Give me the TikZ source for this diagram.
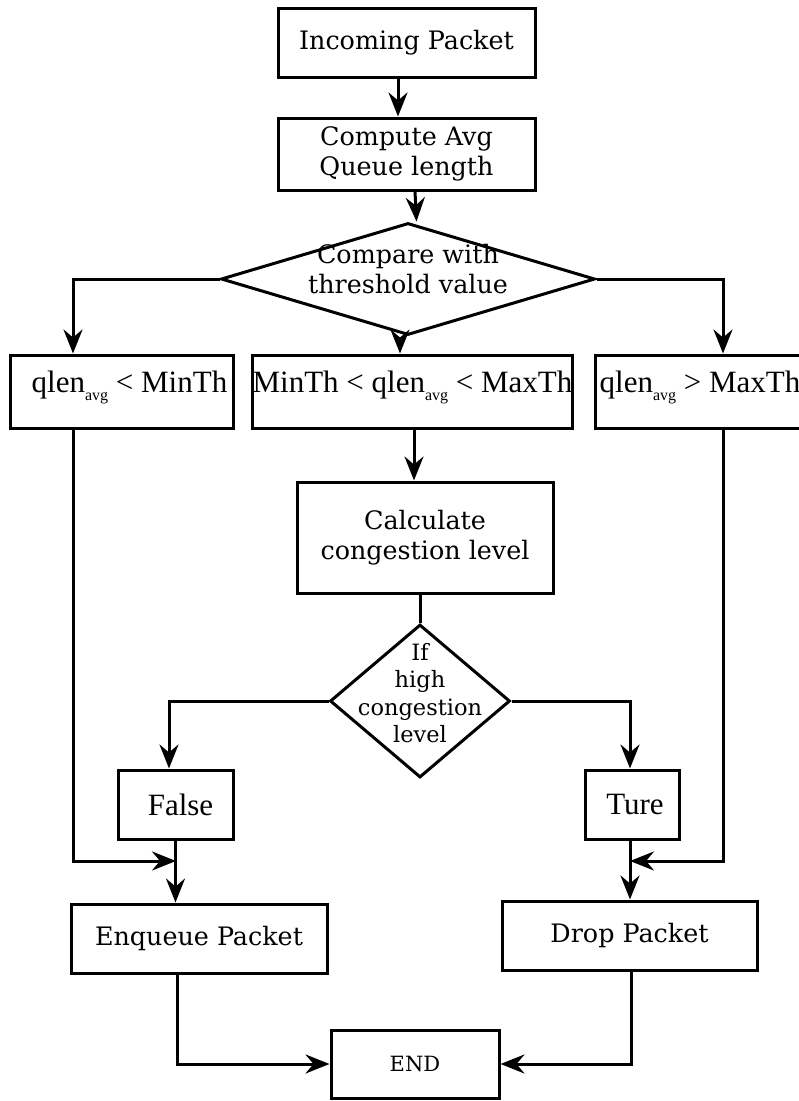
\documentclass[tikz,border=0pt]{standalone}
\usepackage{fontspec}
\setmainfont{DejaVu Serif}
\newfontfamily\narrowfont{Liberation Serif}
\usetikzlibrary{arrows.meta,positioning,shapes.geometric}

\newcommand{\qavg}{qlen\raisebox{-8pt}{\fontsize{16}{16}\selectfont avg}}
\newcommand{\dtext}[1]{\smash{\makebox[0pt]{\begin{tabular}{@{}c@{}}#1\end{tabular}}}}

\begin{document}
\begin{tikzpicture}[x=1pt, y=-1pt, >={Stealth[length=24pt,width=19pt,inset=8pt]},
  line width=3pt,
  every node/.style={font=\fontsize{25.4}{30}\selectfont, align=center},
  box/.style={draw, rectangle, inner sep=0pt},
  cond/.style={draw, diamond, inner sep=0pt},
  thin/.style={font=\narrowfont\fontsize{31}{32}\selectfont}]
\useasboundingbox (0,0) rectangle (799,1101);
\node[box,minimum width=257pt,minimum height=69pt] (inc) at (406.5,42.5) {Incoming Packet};
\node[box,minimum width=257pt,minimum height=72pt] (avg) at (406.5,154) {Compute Avg\\Queue length};
\node[cond,minimum width=374pt,minimum height=112pt] (cmp) at (408,279) {\dtext{Compare with\\threshold value}};
\node[box,thin,minimum width=223pt,minimum height=73pt,text height=22pt,text depth=20pt] (lo) at (121.5,391.5) {\hspace{16pt}\qavg{} < MinTh};
\node[box,thin,minimum width=319pt,minimum height=73pt,text height=22pt,text depth=20pt] (mid) at (412.5,391.5) {MinTh < \qavg{} < MaxTh};
\node[box,thin,minimum width=210pt,minimum height=73pt,text height=22pt,text depth=20pt] (hi) at (700,391.5) {\qavg{} > MaxTh};
\node[box,minimum width=256pt,minimum height=111pt] (calc) at (425,537.5) {Calculate\\congestion level};
\node[cond,minimum width=180pt,minimum height=153pt,font=\fontsize{22.5}{27.5}\selectfont] (lvl) at (420,701) {\dtext{If\\high\\congestion\\level}};
\node[box,thin,minimum width=115pt,minimum height=69pt] (no) at (175.5,804.5) {\hspace{10pt}False};
\node[box,thin,minimum width=94pt,minimum height=69pt] (yes) at (632,804.5) {\hspace{6pt}Ture};
\node[box,minimum width=256pt,minimum height=69pt] (enq) at (199,938.5) {Enqueue Packet};
\node[box,minimum width=255pt,minimum height=69pt] (drop) at (629.5,935.5) {Drop Packet};
\node[box,minimum width=168pt,minimum height=68pt,font=\fontsize{21}{24}\selectfont] (end) at (415,1064) {END};
\coordinate (jl) at (176,861);
\coordinate (jr) at (630,861);

\draw[->] ([xshift=-8.5pt]inc.south) -- ([xshift=-8.5pt]avg.north);
\draw[->] ([xshift=8.5pt]avg.south) -- ([xshift=8.5pt]cmp.north);
\draw[->] (cmp.west) -| ([xshift=-48.5pt]lo.north);
\draw[->] (cmp.east) -| ([xshift=23pt]hi.north);
\draw[->] ([xshift=-8pt]cmp.south) -- ([xshift=-8pt]cmp.south |- mid.north);
\draw[->] ([xshift=-11pt]calc.north |- mid.south) -- ([xshift=-11pt]calc.north);
\draw (lvl.north |- calc.south) -- (lvl.north);
\draw[->] (lvl.west) -| ([xshift=-6.5pt]no.north);
\draw[->] (lvl.east) -| ([xshift=-2pt]yes.north);
\draw[->] ([xshift=-48.5pt]lo.south) |- (jl);
\draw[->] ([xshift=23.5pt]hi.south) |- (jr);
\draw[->] (no.south) -- (no.south |- enq.north);
\draw[->] ([xshift=-2pt]yes.south) -- ([xshift=-2pt]yes.south |- drop.north);
\draw[->] ([xshift=-22pt]enq.south) |- (end.west);
\draw[->] ([xshift=2pt]drop.south) |- (end.east);
\end{tikzpicture}
\end{document}
